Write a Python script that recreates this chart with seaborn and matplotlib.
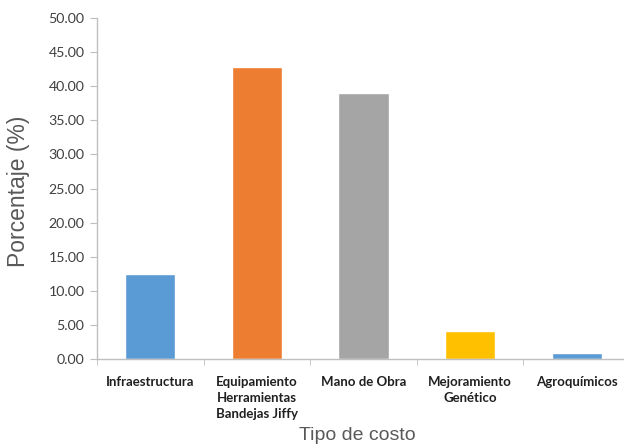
import pandas as pd
import matplotlib.pyplot as plt
import seaborn as sns
from matplotlib.ticker import FixedLocator

# ------------------------------------------------------------
# Data
# ------------------------------------------------------------
categorias = [
    "Infraestructura",
    "Equipamiento\nHerramientas\nBandejas Jiffy",
    "Mano de Obra",
    "Mejoramiento\nGenético",
    "Agroquímicos",
]
porcentajes = [12.45, 42.80, 39.00, 4.10, 0.85]
colores = ["#5B9BD5", "#ED7D31", "#A5A5A5", "#FFC000", "#5B9BD5"]

df = pd.DataFrame({"categoria": categorias, "porcentaje": porcentajes})

sns.set_style("white")
plt.rcParams['font.family'] = ['Lato', 'DejaVu Sans']

fig = plt.figure(figsize=(6.24, 4.47), dpi=100)
ax = fig.add_axes([97 / 624, 1 - 359 / 447, 533 / 624, 341 / 447])

sns.barplot(
    data=df,
    x="categoria",
    y="porcentaje",
    hue="categoria",
    palette=colores,
    saturation=1,
    width=0.47,
    legend=False,
    ax=ax,
)

ax.set_xlim(-0.5, len(categorias) - 0.5)
ax.set_ylim(0, 50)
ax.set_yticks([i * 5 for i in range(11)])
ax.set_yticklabels([f"{i * 5:.2f}" for i in range(11)], fontsize=10.2, color="#404040")

ax.set_xticks(range(len(categorias)))
ax.set_xticklabels(categorias, fontsize=9.5, fontweight="bold", color="#202020",
                   linespacing=1.4, va="top")
ax.tick_params(axis="x", which="major", length=0, pad=12)
ax.xaxis.set_minor_locator(FixedLocator([i - 0.5 for i in range(len(categorias) + 1)]))
ax.tick_params(axis="x", which="minor", length=4, color="#BFBFBF", direction="out", bottom=True)
ax.tick_params(axis="y", length=5, color="#BFBFBF", direction="out", left=True, pad=4)

for side in ["top", "right"]:
    ax.spines[side].set_visible(False)
for side in ["left", "bottom"]:
    ax.spines[side].set_color("#BFBFBF")
    ax.spines[side].set_linewidth(1)

ax.set_xlabel("")
ax.set_ylabel("")
fig.text(19 / 624, 1 - 191 / 447, "Porcentaje (%)", rotation=90, ha="center", va="center",
         fontsize=16.5, color="#595959", family=["Liberation Sans", "DejaVu Sans"])
fig.text(357 / 624, 1 - 436 / 447, "Tipo de costo", ha="center", va="center",
         fontsize=14, color="#595959", family=["Liberation Sans", "DejaVu Sans"])

fig.savefig("out.png", dpi=100)
plt.close()
